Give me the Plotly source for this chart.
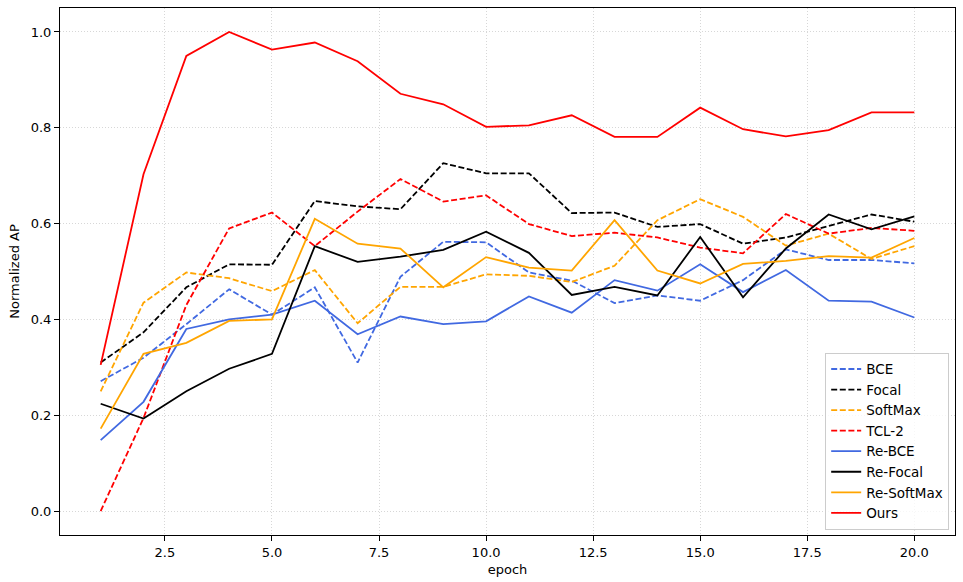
import plotly.graph_objects as go

epochs = list(range(1, 21))

bce = [0.271, 0.32, 0.39, 0.463, 0.41, 0.467, 0.31, 0.489, 0.562, 0.561,
       0.498, 0.481, 0.434, 0.45, 0.439, 0.482, 0.546, 0.524, 0.524, 0.517]
focal = [0.31, 0.373, 0.467, 0.515, 0.514, 0.647, 0.636, 0.63, 0.726, 0.705,
         0.705, 0.622, 0.623, 0.593, 0.599, 0.558, 0.571, 0.595, 0.619, 0.604]
softmax = [0.25, 0.435, 0.498, 0.486, 0.459, 0.503, 0.392, 0.468, 0.468, 0.494,
           0.491, 0.478, 0.512, 0.607, 0.651, 0.614, 0.554, 0.579, 0.526, 0.553]
tcl2 = [0.0, 0.194, 0.43, 0.59, 0.623, 0.553, 0.625, 0.693, 0.646, 0.659,
        0.599, 0.574, 0.581, 0.571, 0.55, 0.538, 0.62, 0.579, 0.591, 0.585]
re_bce = [0.148, 0.228, 0.38, 0.40, 0.41, 0.439, 0.369, 0.406, 0.39, 0.396,
          0.448, 0.414, 0.482, 0.46, 0.515, 0.457, 0.503, 0.439, 0.437, 0.404]
re_focal = [0.224, 0.193, 0.25, 0.297, 0.328, 0.553, 0.52, 0.531, 0.545, 0.583,
            0.539, 0.451, 0.468, 0.45, 0.572, 0.446, 0.548, 0.619, 0.588, 0.615]
re_softmax = [0.172, 0.328, 0.351, 0.397, 0.40, 0.61, 0.558, 0.548, 0.467, 0.53,
              0.508, 0.502, 0.607, 0.502, 0.475, 0.516, 0.522, 0.532, 0.529, 0.57]
ours = [0.305, 0.703, 0.95, 1.0, 0.963, 0.978, 0.939, 0.871, 0.849, 0.802,
        0.805, 0.826, 0.781, 0.781, 0.842, 0.797, 0.782, 0.795, 0.832, 0.832]

x_ticks = [2.5, 5.0, 7.5, 10.0, 12.5, 15.0, 17.5, 20.0]
x_tick_labels = ["2.5", "5.0", "7.5", "10.0", "12.5", "15.0", "17.5", "20.0"]
y_ticks = [0.0, 0.2, 0.4, 0.6, 0.8, 1.0]
y_tick_labels = ["0.0", "0.2", "0.4", "0.6", "0.8", "1.0"]

series = [
    ("BCE", bce, "#4169E1", True),
    ("Focal", focal, "#000000", True),
    ("SoftMax", softmax, "#FFA500", True),
    ("TCL-2", tcl2, "#FF0000", True),
    ("Re-BCE", re_bce, "#4169E1", False),
    ("Re-Focal", re_focal, "#000000", False),
    ("Re-SoftMax", re_softmax, "#FFA500", False),
    ("Ours", ours, "#FF0000", False),
]

fig = go.Figure()
for name, vals, color, dashed in series:
    fig.add_trace(go.Scatter(
        x=epochs, y=vals, mode="lines", name=name,
        line=dict(color=color, width=1.8,
                  dash="6px,2.6px" if dashed else "solid"),
    ))

font = dict(family="DejaVu Sans", size=13, color="#000000")
fig.update_layout(
    width=963, height=582,
    margin=dict(l=60, r=7, t=7, b=46),
    paper_bgcolor="white", plot_bgcolor="white",
    font=font,
    showlegend=True,
    legend=dict(
        x=0.9935, y=0.01, xanchor="right", yanchor="bottom",
        bgcolor="rgba(255,255,255,0.8)", bordercolor="#cccccc", borderwidth=1,
        font=dict(family="DejaVu Sans", size=13.5, color="#000000"),
        tracegroupgap=0, itemwidth=30,
    ),
    xaxis=dict(
        range=[0.05, 20.95], tickvals=x_ticks, ticktext=x_tick_labels,
        showline=True, linecolor="black", linewidth=1, mirror=True,
        ticks="outside", ticklen=5, tickcolor="black",
        showgrid=True, gridcolor="rgba(176,176,176,0.5)", griddash="1px,2px", gridwidth=1,
        zeroline=False,
        title=dict(text="epoch", font=font, standoff=6),
    ),
    yaxis=dict(
        range=[-0.05, 1.05], tickvals=y_ticks, ticktext=y_tick_labels,
        showline=True, linecolor="black", linewidth=1, mirror=True,
        ticks="outside", ticklen=5, tickcolor="black",
        showgrid=True, gridcolor="rgba(176,176,176,0.5)", griddash="1px,2px", gridwidth=1,
        zeroline=False,
        title=dict(text="Normalized AP", font=font, standoff=8),
    ),
)

fig.write_html("out.html", config={"displayModeBar": False},
               post_script="document.body.style.margin='0';")
